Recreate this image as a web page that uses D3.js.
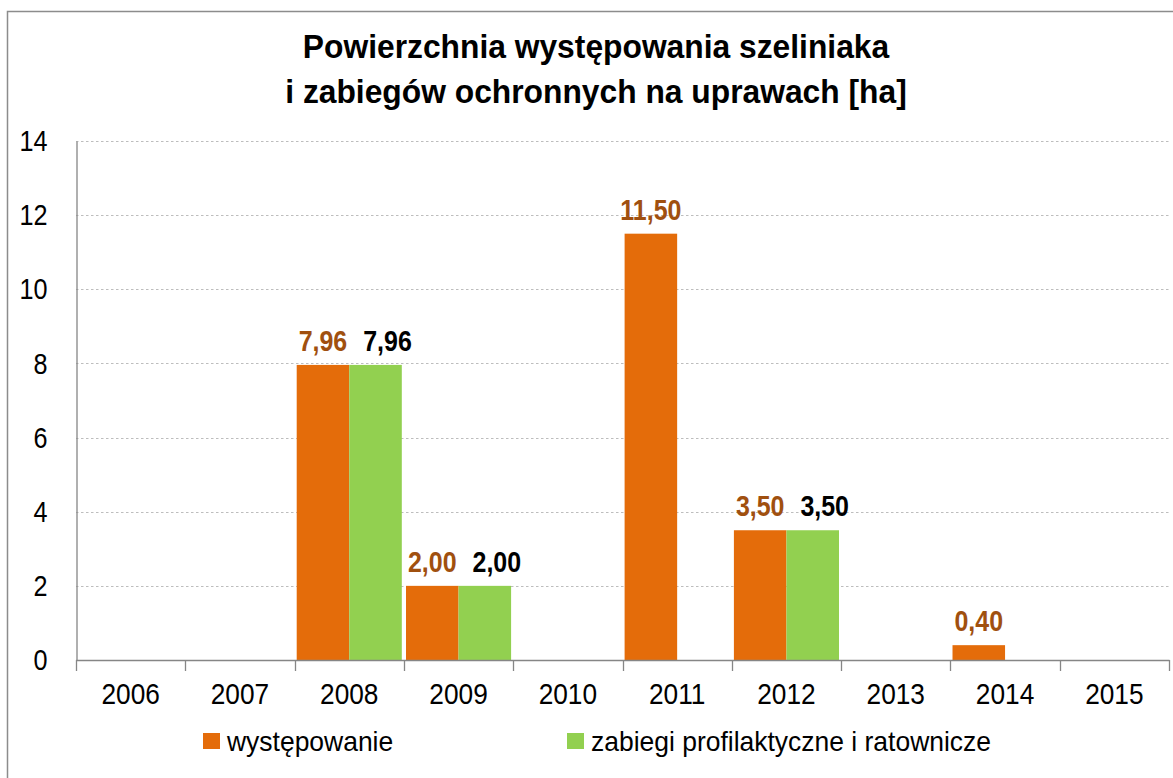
<!DOCTYPE html>
<html>
<head>
<meta charset="utf-8">
<script src="https://cdn.jsdelivr.net/npm/d3@7"></script>
<style>
  html, body { margin: 0; padding: 0; background: #ffffff; }
  svg text { font-family: "Liberation Sans", Arial, sans-serif; }
</style>
</head>
<body>
<svg id="chart" width="1173" height="778"></svg>
<script>
// Years on the category axis
const years = ["2006", "2007", "2008", "2009", "2010", "2011", "2012", "2013", "2014", "2015"];
// Area of occurrence [ha] (null = no data)
const wystepowanie = [null, null, 7.96, 2.00, null, 11.50, 3.50, null, 0.40, null];
// Area of preventive and rescue treatments [ha]
const zabiegi = [null, null, 7.96, 2.00, null, null, 3.50, null, null, null];
const yTicks = [0, 2, 4, 6, 8, 10, 12, 14];
const seriesNames = ["występowanie", "zabiegi profilaktyczne i ratownicze"];
const titleLines = ["Powierzchnia występowania szeliniaka", "i zabiegów ochronnych na uprawach [ha]"];

const colors = ["#E46C0A", "#92D050"];
const labelColors = ["#A0500F", "#000000"];
const labelShift = [0, 12];

// squeeze text horizontally to mimic a condensed face
function condense(sel, factor) {
  sel.each(function () {
    const len = this.getComputedTextLength();
    d3.select(this).attr("textLength", len * factor).attr("lengthAdjust", "spacingAndGlyphs");
  });
}

const svg = d3.select("#chart");
const W = 1173, H = 778;

// outer chart frame
svg.append("rect")
  .attr("x", 7.5).attr("y", 11.5)
  .attr("width", W + 20).attr("height", H + 20)
  .attr("fill", "#fff").attr("stroke", "#8c8c8c").attr("stroke-width", 1.5);

// title
svg.append("g").selectAll("text").data(titleLines).join("text")
  .attr("x", 596).attr("y", (d, i) => 58 + i * 45)
  .attr("text-anchor", "middle")
  .attr("font-weight", "bold").attr("font-size", 33)
  .attr("fill", "#000")
  .text(d => d)
  .call(condense, 0.963);

const x = d3.scaleBand().domain(years).range([76, 1169]).paddingInner(0).paddingOuter(0);
const y = d3.scaleLinear().domain([0, 14]).range([660, 141]);

const inner = d3.scaleBand().domain([0, 1]).range([0, x.bandwidth()]).paddingInner(0).paddingOuter(0.04);

// gridlines
svg.append("g").selectAll("line").data(yTicks.filter(t => t > 0)).join("line")
  .attr("x1", 76).attr("x2", 1169)
  .attr("y1", d => Math.round(y(d)) + 0.5).attr("y2", d => Math.round(y(d)) + 0.5)
  .attr("stroke", "#bdbdbd").attr("stroke-width", 1.2).attr("stroke-dasharray", "2.5,2.5");

// y axis
const yAxis = svg.append("g").attr("transform", "translate(76.5,0)")
  .call(d3.axisLeft(y).tickValues(yTicks).tickSize(0).tickPadding(29).tickFormat(d3.format("d")));
yAxis.select(".domain").attr("stroke", "#868686").attr("stroke-width", 1.3);
yAxis.selectAll("text").attr("font-size", 30).attr("fill", "#000").call(condense, 0.84);

// bars and value labels
const series = [wystepowanie, zabiegi];
series.forEach((vals, si) => {
  const g = svg.append("g");
  const data = years.map((yr, i) => ({ yr, v: vals[i] })).filter(d => d.v !== null);
  g.selectAll("rect").data(data).join("rect")
    .attr("x", d => x(d.yr) + inner(si))
    .attr("width", inner.bandwidth())
    .attr("y", d => y(d.v))
    .attr("height", d => y(0) - y(d.v))
    .attr("fill", colors[si]);
  g.selectAll("text").data(data).join("text")
    .attr("x", d => x(d.yr) + inner(si) + inner.bandwidth() / 2 + labelShift[si])
    .attr("y", d => y(d.v) - 14)
    .attr("text-anchor", "middle")
    .attr("font-weight", "bold").attr("font-size", 29)
    .attr("fill", labelColors[si])
    .text(d => d3.format(".2f")(d.v).replace(".", ","))
    .call(condense, 0.86);
});

// x axis
const xAxis = svg.append("g").attr("transform", "translate(0,660.5)")
  .call(d3.axisBottom(x).tickSize(0).tickPadding(22));
xAxis.select(".domain").remove();
xAxis.selectAll("text").attr("font-size", 30).attr("fill", "#000").call(condense, 0.875);
svg.append("line").attr("x1", 76).attr("x2", 1169.5).attr("y1", 660.5).attr("y2", 660.5)
  .attr("stroke", "#868686").attr("stroke-width", 1.3);
svg.append("g").selectAll("line").data(years.map(d => x(d)).concat([x.range()[1]])).join("line")
  .attr("x1", d => Math.round(d) + 0.5).attr("x2", d => Math.round(d) + 0.5)
  .attr("y1", 660).attr("y2", 671)
  .attr("stroke", "#868686").attr("stroke-width", 1.3);

// legend
const legendX = [203, 567];
const lg = svg.append("g");
seriesNames.forEach((name, i) => {
  lg.append("rect").attr("x", legendX[i]).attr("y", 733).attr("width", 17).attr("height", 16).attr("fill", colors[i]);
  lg.append("text").attr("x", legendX[i] + 24).attr("y", 751)
    .attr("font-size", 28).attr("fill", "#000").text(name)
    .call(condense, 0.945);
});
</script>
</body>
</html>
